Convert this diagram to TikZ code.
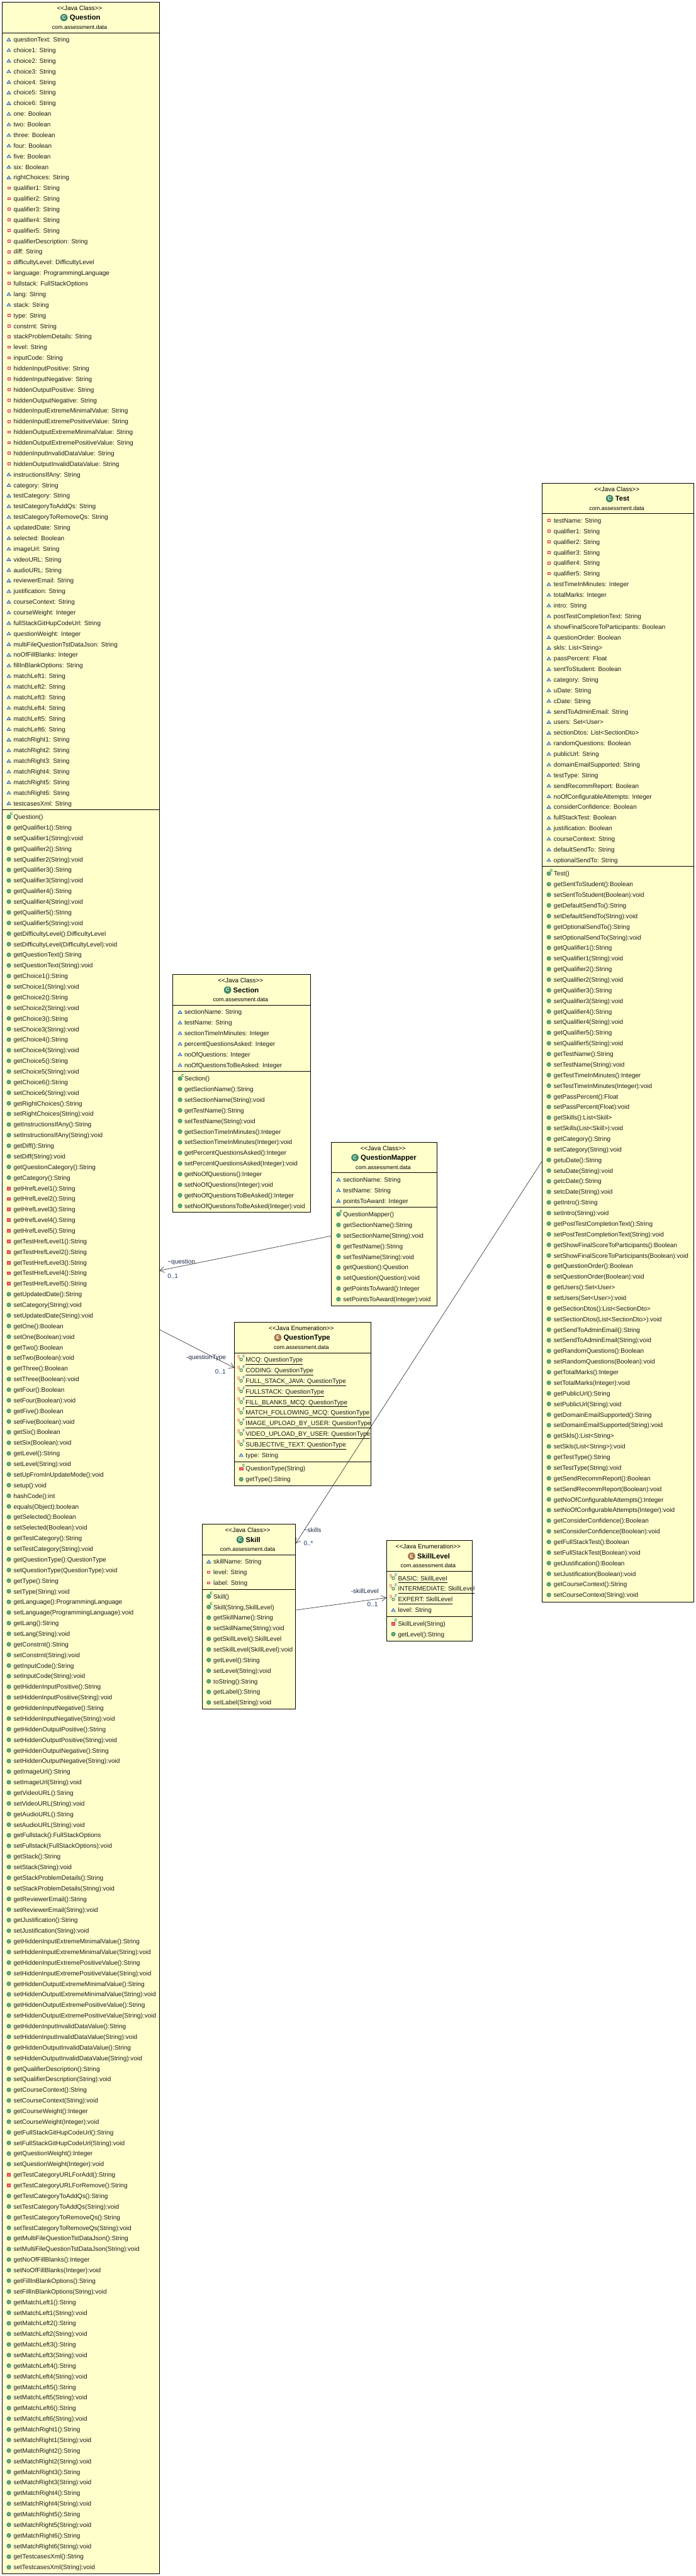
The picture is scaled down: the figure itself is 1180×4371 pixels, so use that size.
\documentclass[tikz,border=0pt]{standalone}
\usepackage{fontspec}
\setmainfont{Liberation Sans}
\usetikzlibrary{arrows.meta}
\definecolor{boxfill}{HTML}{FFFFCC}
\definecolor{pubfill}{HTML}{5FAA82}
\definecolor{pubedge}{HTML}{3A7F5C}
\definecolor{defblue}{HTML}{2A66B0}
\definecolor{privred}{HTML}{D8324E}
\definecolor{privfill}{HTML}{EC6A78}
\definecolor{ctorgreen}{HTML}{12934A}
\definecolor{classgreen}{HTML}{3E8A66}
\definecolor{enumbrown}{HTML}{A8744A}
\definecolor{labelcol}{HTML}{1A2A44}
\definecolor{multcol}{HTML}{1C3A70}
\newcommand\rowfont{\fontsize{10.7}{12}\selectfont}
\tikzset{
  classbox/.style={draw=black,line width=1pt,fill=boxfill,inner sep=0pt,outer sep=0pt},
  rowlabel/.style={anchor=base west,inner sep=0pt,outer sep=0pt,font=\rowfont,text=black!90},
  headst/.style={anchor=base,inner sep=0pt,font=\fontsize{10.6}{12}\selectfont,text=black},
  headname/.style={anchor=base,inner sep=0pt,font=\fontsize{12}{13}\selectfont\bfseries,text=black},
  headpkg/.style={anchor=base,inner sep=0pt,font=\fontsize{9.6}{12}\selectfont,text=black},
  headicon/.style={circle,inner sep=0pt,minimum size=12.5pt,text=white,font=\fontsize{8.5}{9}\selectfont\bfseries},
  divider/.style={draw=black,line width=1pt},
  uline/.style={draw=black,line width=.9pt},
  assoc/.style={draw=black!80,line width=.7pt,-{Straight Barb[length=8pt,width=10pt]}},
  linklabel/.style={anchor=west,inner sep=0pt,font=\rowfont,text=labelcol},
  multlabel/.style={anchor=west,inner sep=0pt,font=\rowfont,text=multcol},
  smallmark/.style={inner sep=0pt,font=\fontsize{8}{8}\selectfont},
  ctormark/.style={inner sep=0pt,font=\fontsize{8.5}{8}\selectfont\bfseries,text=ctorgreen},
}
\newdimen\ry
\newdimen\sy
\newcount\rowno
\newcommand\placeicon[1]{\begin{scope}[shift={(\rowIx pt,\the\ry)}]#1\end{scope}}
\newcommand\putrow[1]{\global\advance\rowno by 1\relax
  \node[rowlabel,yshift=-4pt] (r\the\rowno) at (\rowTx pt,\the\ry) {#1};}
\newcommand\nextrow{\global\advance\ry by -18pt\relax}
% field and method rows
\newcommand\shapeD{\filldraw[draw=defblue,fill=white!70!defblue,line width=.9pt] (-3.2,-2.4) -- (3.2,-2.4) -- (0,2.6) -- cycle;}
\newcommand\shapeV{\filldraw[draw=privred,fill=privfill!35,line width=1pt] (-2.2,-2) rectangle (2.2,2);}
\newcommand\shapeP{\filldraw[draw=pubedge,fill=pubfill,line width=.7pt] (0,0) circle (3.4);}
\newcommand\shapeM{\filldraw[draw=privred,fill=privfill,line width=.8pt] (-3,-2.8) rectangle (3,2.4);}
\newcommand\fD[1]{\putrow{#1}\placeicon{\shapeD}\nextrow}
\newcommand\fV[1]{\putrow{#1}\placeicon{\shapeV}\nextrow}
\newcommand\mP[1]{\putrow{#1}\placeicon{\shapeP}\nextrow}
\newcommand\mM[1]{\putrow{#1}\placeicon{\shapeM}\nextrow}
\newcommand\mC[1]{\putrow{#1}\placeicon{\shapeP\node[ctormark] (c\the\rowno) at (4.4,5.2) {c};}\nextrow}
\newcommand\mR[1]{\putrow{#1}\placeicon{\shapeM\node[ctormark] (c\the\rowno) at (4.4,5.6) {c};}\nextrow}
\newcommand\fE[1]{\putrow{#1}%
  \draw[uline] ([yshift=-4pt]r\the\rowno.base west) -- ([yshift=-4pt]r\the\rowno.base east);
  \placeicon{\draw[pubedge,line width=1.1pt] (0,0) circle (2.3);
    \node[smallmark,text=privred] (s\the\rowno) at (-4.2,4.2) {S};
    \node[smallmark,text=defblue] (f\the\rowno) at (4.6,5.2) {F};}\nextrow}
\newcommand\gs[2]{\mP{get#1():#2}\mP{set#1(#2):void}}
% box with its header
\newcommand\ClassBox[9]{% id,L,R,T,B,icon colour,icon letter,stereotype,title
  \pgfmathsetmacro\cxx{(#2+#3)/2}\pgfmathsetmacro\cyy{-(#4+#5)/2}
  \node[classbox,minimum width={#3-#2},minimum height={#5-#4}] (#1) at (\cxx,\cyy) {};
  \node[headst] (#1-st) at (\cxx-2,-#4-14) {{<}{<}#8{>}{>}};
  \node[headname] (#1-name) at (\cxx+7.3,-#4-30.5) {#9};
  \node[headicon,fill=#6] (#1-ic) at ([xshift=-9.5pt,yshift=4.3pt]#1-name.base west) {#7};
  \node[headpkg] (#1-pkg) at (\cxx-2,-#4-46) {com.assessment.data};
  \draw[divider] (#2,-#4-52) -- (#3,-#4-52);
  \xdef\curL{#2}\xdef\curR{#3}
  \global\ry=-#4pt\global\advance\ry by -63.5pt\relax}
\newcommand\setcols[2]{\xdef\rowIx{#1}\xdef\rowTx{#2}}
\newcommand\sepline{\sy=\ry\advance\sy by 7pt\relax
  \draw[divider] (\curL pt,\the\sy) -- (\curR pt,\the\sy);
  \global\advance\ry by -5pt\relax}
\begin{document}
\begin{tikzpicture}[x=1pt,y=1pt]
\fill[white] (0,0) rectangle (1180,-4371);
\useasboundingbox (0,0) rectangle (1180,-4371);
%---------------- Question
\ClassBox{question}{3.5}{270.3}{3.6}{4367}{classgreen}{C}{Java Class}{Question}
\setcols{15}{23}
\fD{questionText: String}\fD{choice1: String}\fD{choice2: String}\fD{choice3: String}\fD{choice4: String}\fD{choice5: String}\fD{choice6: String}
\fD{one: Boolean}\fD{two: Boolean}\fD{three: Boolean}\fD{four: Boolean}\fD{five: Boolean}\fD{six: Boolean}\fD{rightChoices: String}
\fV{qualifier1: String}\fV{qualifier2: String}\fV{qualifier3: String}\fV{qualifier4: String}\fV{qualifier5: String}
\fV{qualifierDescription: String}\fV{diff: String}\fV{difficultyLevel: DifficultyLevel}\fV{language: ProgrammingLanguage}\fV{fullstack: FullStackOptions}
\fD{lang: String}\fD{stack: String}
\fV{type: String}\fV{constrnt: String}\fV{stackProblemDetails: String}\fV{level: String}\fV{inputCode: String}
\fV{hiddenInputPositive: String}\fV{hiddenInputNegative: String}\fV{hiddenOutputPositive: String}\fV{hiddenOutputNegative: String}
\fV{hiddenInputExtremeMinimalValue: String}\fV{hiddenInputExtremePositiveValue: String}\fV{hiddenOutputExtremeMinimalValue: String}\fV{hiddenOutputExtremePositiveValue: String}
\fV{hiddenInputInvalidDataValue: String}\fV{hiddenOutputInvalidDataValue: String}
\fD{instructionsIfAny: String}\fD{category: String}\fD{testCategory: String}\fD{testCategoryToAddQs: String}\fD{testCategoryToRemoveQs: String}
\fD{updatedDate: String}\fD{selected: Boolean}\fD{imageUrl: String}\fD{videoURL: String}\fD{audioURL: String}\fD{reviewerEmail: String}
\fD{justification: String}\fD{courseContext: String}\fD{courseWeight: Integer}\fD{fullStackGitHupCodeUrl: String}\fD{questionWeight: Integer}
\fD{multiFileQuestionTstDataJson: String}\fD{noOfFillBlanks: Integer}\fD{fillInBlankOptions: String}
\fD{matchLeft1: String}\fD{matchLeft2: String}\fD{matchLeft3: String}\fD{matchLeft4: String}\fD{matchLeft5: String}\fD{matchLeft6: String}
\fD{matchRight1: String}\fD{matchRight2: String}\fD{matchRight3: String}\fD{matchRight4: String}\fD{matchRight5: String}\fD{matchRight6: String}
\fD{testcasesXml: String}
\sepline
\mC{Question()}
\gs{Qualifier1}{String}\gs{Qualifier2}{String}\gs{Qualifier3}{String}\gs{Qualifier4}{String}\gs{Qualifier5}{String}
\gs{DifficultyLevel}{DifficultyLevel}\gs{QuestionText}{String}
\gs{Choice1}{String}\gs{Choice2}{String}\gs{Choice3}{String}\gs{Choice4}{String}\gs{Choice5}{String}\gs{Choice6}{String}
\gs{RightChoices}{String}\gs{InstructionsIfAny}{String}\gs{Diff}{String}
\mP{getQuestionCategory():String}\mP{getCategory():String}
\mM{getHrefLevel1():String}\mM{getHrefLevel2():String}\mM{getHrefLevel3():String}\mM{getHrefLevel4():String}\mM{getHrefLevel5():String}
\mM{getTestHrefLevel1():String}\mM{getTestHrefLevel2():String}\mM{getTestHrefLevel3():String}\mM{getTestHrefLevel4():String}\mM{getTestHrefLevel5():String}
\mP{getUpdatedDate():String}\mP{setCategory(String):void}\mP{setUpdatedDate(String):void}
\gs{One}{Boolean}\gs{Two}{Boolean}\gs{Three}{Boolean}\gs{Four}{Boolean}\gs{Five}{Boolean}\gs{Six}{Boolean}\gs{Level}{String}
\mP{setUpFromInUpdateMode():void}\mP{setup():void}\mP{hashCode():int}\mP{equals(Object):boolean}
\gs{Selected}{Boolean}\gs{TestCategory}{String}\gs{QuestionType}{QuestionType}\gs{Type}{String}\gs{Language}{ProgrammingLanguage}\gs{Lang}{String}\gs{Constrnt}{String}\gs{InputCode}{String}
\gs{HiddenInputPositive}{String}\gs{HiddenInputNegative}{String}\gs{HiddenOutputPositive}{String}\gs{HiddenOutputNegative}{String}
\gs{ImageUrl}{String}\gs{VideoURL}{String}\gs{AudioURL}{String}\gs{Fullstack}{FullStackOptions}\gs{Stack}{String}\gs{StackProblemDetails}{String}\gs{ReviewerEmail}{String}\gs{Justification}{String}
\gs{HiddenInputExtremeMinimalValue}{String}\gs{HiddenInputExtremePositiveValue}{String}\gs{HiddenOutputExtremeMinimalValue}{String}\gs{HiddenOutputExtremePositiveValue}{String}
\gs{HiddenInputInvalidDataValue}{String}\gs{HiddenOutputInvalidDataValue}{String}
\gs{QualifierDescription}{String}\gs{CourseContext}{String}\gs{CourseWeight}{Integer}\gs{FullStackGitHupCodeUrl}{String}\gs{QuestionWeight}{Integer}
\mM{getTestCategoryURLForAdd():String}\mM{getTestCategoryURLForRemove():String}
\gs{TestCategoryToAddQs}{String}\gs{TestCategoryToRemoveQs}{String}\gs{MultiFileQuestionTstDataJson}{String}\gs{NoOfFillBlanks}{Integer}\gs{FillInBlankOptions}{String}
\gs{MatchLeft1}{String}\gs{MatchLeft2}{String}\gs{MatchLeft3}{String}\gs{MatchLeft4}{String}\gs{MatchLeft5}{String}\gs{MatchLeft6}{String}
\gs{MatchRight1}{String}\gs{MatchRight2}{String}\gs{MatchRight3}{String}\gs{MatchRight4}{String}\gs{MatchRight5}{String}\gs{MatchRight6}{String}
\gs{TestcasesXml}{String}
%---------------- Section
\ClassBox{section}{293.3}{526.7}{1653.6}{2057}{classgreen}{C}{Java Class}{Section}
\setcols{305.3}{312.7}
\fD{sectionName: String}\fD{testName: String}\fD{sectionTimeInMinutes: Integer}\fD{percentQuestionsAsked: Integer}\fD{noOfQuestions: Integer}\fD{noOfQuestionsToBeAsked: Integer}
\sepline
\mC{Section()}
\gs{SectionName}{String}\gs{TestName}{String}\gs{SectionTimeInMinutes}{Integer}\gs{PercentQuestionsAsked}{Integer}\gs{NoOfQuestions}{Integer}\gs{NoOfQuestionsToBeAsked}{Integer}
%---------------- QuestionMapper
\ClassBox{mapper}{562.3}{741}{1938}{2216}{classgreen}{C}{Java Class}{QuestionMapper}
\setcols{574}{582}
\fD{sectionName: String}\fD{testName: String}\fD{pointsToAward: Integer}
\sepline
\mC{QuestionMapper()}
\gs{SectionName}{String}\gs{TestName}{String}\gs{Question}{Question}\gs{PointsToAward}{Integer}
%---------------- QuestionType
\ClassBox{qtype}{397.3}{628.7}{2243.5}{2521}{enumbrown}{E}{Java Enumeration}{QuestionType}
\setcols{409}{416.7}
\fE{MCQ: QuestionType}\fE{CODING: QuestionType}\fE{FULL\_STACK\_JAVA: QuestionType}\fE{FULLSTACK: QuestionType}\fE{FILL\_BLANKS\_MCQ: QuestionType}
\fE{MATCH\_FOLLOWING\_MCQ: QuestionType}\fE{IMAGE\_UPLOAD\_BY\_USER: QuestionType}\fE{VIDEO\_UPLOAD\_BY\_USER: QuestionType}\fE{SUBJECTIVE\_TEXT: QuestionType}
\fD{type: String}
\sepline
\mR{QuestionType(String)}
\mP{getType():String}
%---------------- Skill
\ClassBox{skill}{342.7}{501.3}{2586.3}{2900}{classgreen}{C}{Java Class}{Skill}
\setcols{354}{362}
\fD{skillName: String}\fV{level: String}\fV{label: String}
\sepline
\mC{Skill()}\mC{Skill(String,SkillLevel)}
\gs{SkillName}{String}\gs{SkillLevel}{SkillLevel}\gs{Level}{String}
\mP{toString():String}
\gs{Label}{String}
%---------------- SkillLevel
\ClassBox{slevel}{655.3}{800.7}{2614.3}{2784.3}{enumbrown}{E}{Java Enumeration}{SkillLevel}
\setcols{667}{675}
\fE{BASIC: SkillLevel}\fE{INTERMEDIATE: SkillLevel}\fE{EXPERT: SkillLevel}
\fD{level: String}
\sepline
\mR{SkillLevel(String)}
\mP{getLevel():String}
%---------------- Test
\ClassBox{test}{919.3}{1176.7}{819.8}{2718}{classgreen}{C}{Java Class}{Test}
\setcols{930.7}{939}
\fV{testName: String}\fV{qualifier1: String}\fV{qualifier2: String}\fV{qualifier3: String}\fV{qualifier4: String}\fV{qualifier5: String}
\fD{testTimeInMinutes: Integer}\fD{totalMarks: Integer}\fD{intro: String}\fD{postTestCompletionText: String}\fD{showFinalScoreToParticipants: Boolean}\fD{questionOrder: Boolean}
\fD{skls: List<String>}\fD{passPercent: Float}\fD{sentToStudent: Boolean}\fD{category: String}\fD{uDate: String}\fD{cDate: String}\fD{sendToAdminEmail: String}
\fD{users: Set<User>}\fD{sectionDtos: List<SectionDto>}\fD{randomQuestions: Boolean}\fD{publicUrl: String}\fD{domainEmailSupported: String}\fD{testType: String}
\fD{sendRecommReport: Boolean}\fD{noOfConfigurableAttempts: Integer}\fD{considerConfidence: Boolean}\fD{fullStackTest: Boolean}\fD{justification: Boolean}
\fD{courseContext: String}\fD{defaultSendTo: String}\fD{optionalSendTo: String}
\sepline
\mC{Test()}
\gs{SentToStudent}{Boolean}\gs{DefaultSendTo}{String}\gs{OptionalSendTo}{String}
\gs{Qualifier1}{String}\gs{Qualifier2}{String}\gs{Qualifier3}{String}\gs{Qualifier4}{String}\gs{Qualifier5}{String}
\gs{TestName}{String}\gs{TestTimeInMinutes}{Integer}\gs{PassPercent}{Float}\gs{Skills}{List<Skill>}\gs{Category}{String}\gs{uDate}{String}\gs{cDate}{String}\gs{Intro}{String}
\gs{PostTestCompletionText}{String}\gs{ShowFinalScoreToParticipants}{Boolean}\gs{QuestionOrder}{Boolean}\gs{Users}{Set<User>}\gs{SectionDtos}{List<SectionDto>}
\gs{SendToAdminEmail}{String}\gs{RandomQuestions}{Boolean}\gs{TotalMarks}{Integer}\gs{PublicUrl}{String}\gs{DomainEmailSupported}{String}\gs{Skls}{List<String>}
\gs{TestType}{String}\gs{SendRecommReport}{Boolean}\gs{NoOfConfigurableAttempts}{Integer}\gs{ConsiderConfidence}{Boolean}\gs{FullStackTest}{Boolean}\gs{Justification}{Boolean}\gs{CourseContext}{String}
%---------------- connectors (offsets from the mid-side anchors of the boxes)
\draw[assoc] ([yshift=-20pt]mapper.west) -- ([yshift=29.3pt]question.east);
\draw[assoc] ([yshift=-70.7pt]question.east) -- ([yshift=61.25pt]qtype.west);
\draw[assoc] ([yshift=-201pt]test.west) -- ([yshift=124.15pt]skill.east);
\draw[assoc] ([yshift=11.15pt]skill.east) -- ([yshift=-11.7pt]slevel.west);
%---------------- link labels
\node[linklabel] (lq) at (284,-2142) {\textasciitilde question};
\node[multlabel] (mq) at (284,-2165) {0..1};
\node[linklabel] (lt) at (315.7,-2304) {-questionType};
\node[multlabel] (mt) at (364.7,-2327) {0..1};
\node[linklabel] (ls) at (515,-2596) {\textasciitilde skills};
\node[multlabel] (ms) at (514.7,-2619) {0..*};
\node[linklabel] (ll) at (595,-2699.4) {-skillLevel};
\node[multlabel] (ml) at (622.7,-2722) {0..1};
\end{tikzpicture}
\end{document}
